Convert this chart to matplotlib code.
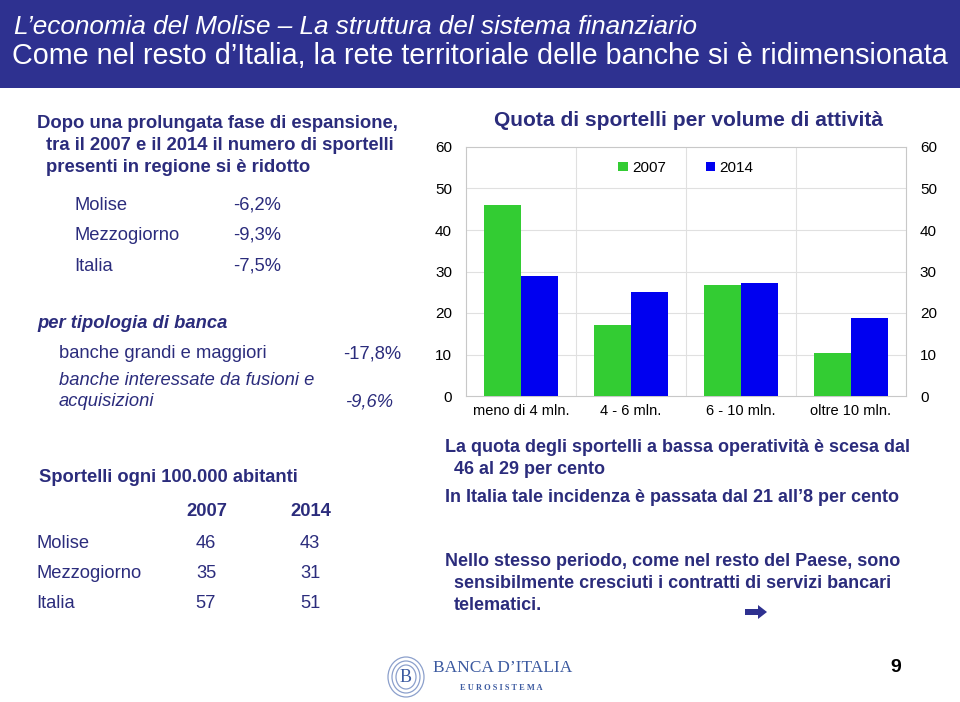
import numpy as np
import matplotlib.pyplot as plt
from matplotlib.patches import Rectangle, FancyArrow, Ellipse

plt.rcParams['font.family'] = ['Liberation Sans', 'DejaVu Sans']

# chart data
categories = ["meno di 4 mln.", "4 - 6 mln.", "6 - 10 mln.", "oltre 10 mln."]
quota_2007 = [46.0, 17.0, 26.7, 10.3]
quota_2014 = [29.0, 25.0, 27.3, 18.8]
years = ["2007", "2014"]

# side panel data
areas = ["Molise", "Mezzogiorno", "Italia"]
var_sportelli = ["-6,2%", "-9,3%", "-7,5%"]
sportelli_2007 = [46, 35, 57]
sportelli_2014 = [43, 31, 51]

NAVY = "#2B2C7C"
W, H = 960, 702

fig = plt.figure(figsize=(9.6, 7.02), dpi=100)


def ftext(x, y, s, **kw):
    # place text using pixel coordinates (from top-left)
    kw.setdefault("va", "center")
    kw.setdefault("color", NAVY)
    fig.text(x / W, 1 - y / H, s, **kw)


# header band
fig.patches.append(Rectangle((0, 1 - 88 / H), 1, 88 / H, transform=fig.transFigure,
                             facecolor="#2E3190", edgecolor="none", zorder=0))
ftext(14, 27, "L\u2019economia del Molise \u2013 La struttura del sistema finanziario",
      color="white", fontsize=18.8, style="italic")
ftext(12, 56, "Come nel resto d\u2019Italia, la rete territoriale delle banche si \u00e8 ridimensionata",
      color="white", fontsize=20.7)

# left panel
ftext(37, 124, "Dopo una prolungata fase di espansione,", fontsize=13.3, weight="bold")
ftext(46, 145, "tra il 2007 e il 2014 il numero di sportelli", fontsize=13.3, weight="bold")
ftext(46, 167, "presenti in regione si \u00e8 ridotto", fontsize=13.3, weight="bold")
for i, (a, v) in enumerate(zip(areas, var_sportelli)):
    y = 205 + i * 30.5
    ftext(74, y, a, fontsize=13.2)
    ftext(233, y, v, fontsize=13.2)

ftext(37, 323, "per tipologia di banca", fontsize=13.2, weight="bold", style="italic")
ftext(59, 354, "banche grandi e maggiori", fontsize=13.2)
ftext(401, 354, "-17,8%", fontsize=13.2, ha="right")
ftext(59, 381, "banche interessate da fusioni e", fontsize=13.2, style="italic")
ftext(59, 402, "acquisizioni", fontsize=13.2, style="italic")
ftext(393, 402, "-9,6%", fontsize=13.2, style="italic", ha="right")

ftext(39, 478, "Sportelli ogni 100.000 abitanti", fontsize=13.2, weight="bold")
ftext(207, 512, years[0], fontsize=13.2, weight="bold", ha="center")
ftext(311, 512, years[1], fontsize=13.2, weight="bold", ha="center")
for i, a in enumerate(areas):
    y = 543 + i * 30.5
    ftext(36, y, a, fontsize=13.2)
    ftext(206, y, str(sportelli_2007[i]), fontsize=13.2, ha="center")
    ftext(310, y, str(sportelli_2014[i]), fontsize=13.2, ha="center")

# right panel text
ftext(445, 447, "La quota degli sportelli a bassa operativit\u00e0 \u00e8 scesa dal",
      fontsize=13, weight="bold")
ftext(454, 470, "46 al 29 per cento", fontsize=13, weight="bold")
ftext(445, 498, "In Italia tale incidenza \u00e8 passata dal 21 all\u20198 per cento",
      fontsize=13, weight="bold")
ftext(445, 561, "Nello stesso periodo, come nel resto del Paese, sono",
      fontsize=13, weight="bold")
ftext(454, 583, "sensibilmente cresciuti i contratti di servizi bancari",
      fontsize=13, weight="bold")
ftext(454, 605, "telematici.", fontsize=13, weight="bold")
fig.patches.append(FancyArrow(745 / W, 1 - 612 / H, 13 / W, 0, width=6 / H,
                              head_width=14 / H, head_length=9 / W,
                              length_includes_head=False, transform=fig.transFigure,
                              facecolor="#2E3190", edgecolor="none"))

# chart
ax = fig.add_axes([466 / W, 1 - 396 / H, 440 / W, 249 / H])
x = np.arange(len(categories))
bw = 0.335
ax.bar(x - bw / 2, quota_2007, bw, color="#33CC33", label=years[0], zorder=3)
ax.bar(x + bw / 2, quota_2014, bw, color="#0000F0", label=years[1], zorder=3)
ax.set_xlim(-0.5, len(categories) - 0.5)
ax.set_ylim(0, 60)
ax.set_yticks(range(0, 61, 10))
ax.set_xticks(x)
ax.set_xticklabels(categories, fontsize=10.5)
ax.tick_params(axis="x", length=0, labelsize=10.5, pad=6)
ax.tick_params(axis="y", length=0, labelsize=11, labelleft=True, labelright=True,
               pad=10)
for yv in range(10, 60, 10):
    ax.axhline(yv, color="#E0E0E0", lw=0.8, zorder=1)
for xv in np.arange(0.5, len(categories) - 0.5, 1):
    ax.axvline(xv, color="#E0E0E0", lw=0.8, zorder=1)
for sp in ax.spines.values():
    sp.set_color("#C8C8C8")
ax.legend(loc="upper center", bbox_to_anchor=(0.5, 1.0), ncol=2, frameon=False,
          fontsize=11, handlelength=0.6, handleheight=0.6, handletextpad=0.3,
          columnspacing=2.6)
ftext(688, 121, "Quota di sportelli per volume di attivit\u00e0", fontsize=15.1,
      weight="bold", ha="center")

# footer
ftext(433, 668, "BANCA D\u2019ITALIA", fontsize=12.5, color="#3C5AA0",
      family=["Liberation Serif", "DejaVu Serif"])
ftext(501, 688, "E U R O S I S T E M A", fontsize=6, color="#3C5AA0", ha="center",
      family=["Liberation Serif", "DejaVu Serif"], weight="bold")
for k, (ew, eh) in enumerate([(36, 40), (28, 32), (20, 24)]):
    fig.patches.append(Ellipse((406 / W, 1 - 677 / H), ew / W, eh / H,
                               transform=fig.transFigure, facecolor="none",
                               edgecolor="#8CA0CC", lw=0.9, zorder=1))
ftext(406, 678, "B", fontsize=13, color="#3C5AA0", ha="center",
      family=["Liberation Serif", "DejaVu Serif"])
ftext(896, 668, "9", fontsize=14, weight="bold", color="black", ha="center")

fig.savefig("out.png", dpi=100)
